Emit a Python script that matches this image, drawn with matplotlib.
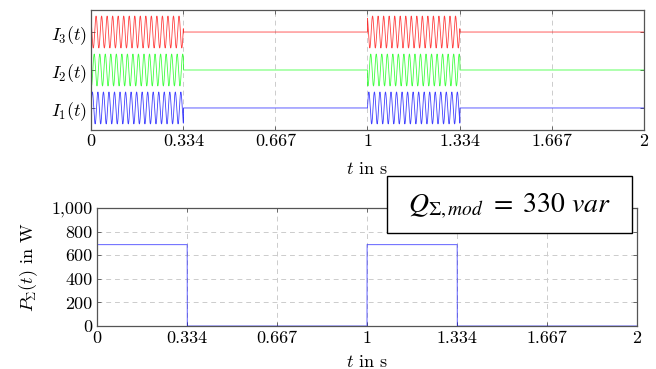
import numpy as np
import matplotlib
matplotlib.use("Agg")
import matplotlib.pyplot as plt
from matplotlib.patches import Rectangle

plt.rcParams['font.family'] = 'serif'
plt.rcParams['font.serif'] = ['cmr10', 'DejaVu Serif']
plt.rcParams['mathtext.fontset'] = 'cm'
plt.rcParams['axes.formatter.use_mathtext'] = True

# --- data ---
on_intervals = [(0.0, 0.334), (1.0, 1.334)]   # s, load switched on
t_end = 2.0
freq_hz = 50.0
current_amplitude = 0.42         # normalised amplitude of each phase current
phase_offsets_deg = [0, -120, 120]  # I1, I2, I3
phase_labels = [r'$I_1(t)$', r'$I_2(t)$', r'$I_3(t)$']
phase_colors = ['blue', '#00ff00', 'red']
power_on_W = 690.0
xticks = [0, 0.334, 0.667, 1, 1.334, 1.667, 2]
xtick_labels = ['0', '0.334', '0.667', '1', '1.334', '1.667', '2']
p_yticks = [0, 200, 400, 600, 800, 1000]
p_ytick_labels = ['0', '200', '400', '600', '800', '1,000']

t = np.linspace(0, t_end, 20001)
on = np.zeros_like(t, dtype=bool)
for a, b in on_intervals:
    on |= (t >= a) & (t <= b)

fig = plt.figure(figsize=(6.56, 3.69), dpi=100)
ax1 = fig.add_axes([0.1387, 0.6477, 0.843, 0.3252])
ax2 = fig.add_axes([0.1479, 0.1165, 0.8232, 0.3198])

fs = 13
frame_col = '#555555'
grid_col = '#cccccc'

# top axes: phase currents
for k, (ph, col) in enumerate(zip(phase_offsets_deg, phase_colors)):
    y = k + np.where(on, current_amplitude * np.sin(2 * np.pi * freq_hz * t + np.deg2rad(ph)), 0.0)
    ax1.plot(t, y, color=col, lw=0.6, alpha=0.75)
ax1.set_xlim(0, t_end)
ax1.set_ylim(-0.58, 2.58)
ax1.set_yticks(range(len(phase_labels)))
ax1.set_yticklabels(phase_labels, fontsize=fs)
ax1.set_xticks(xticks)
ax1.set_xticklabels(xtick_labels, fontsize=fs)
ax1.grid(axis='x', color=grid_col, ls=(0, (5, 4)), lw=0.7)
ax1.set_xlabel(r'$t$ in s', fontsize=fs, labelpad=8.5)

# bottom axes: active power
p = np.where(on, power_on_W, 0.0)
ax2.plot(t, p, color='blue', lw=0.8, alpha=0.55)
ax2.set_xlim(0, t_end)
ax2.set_ylim(0, 1000)
ax2.set_yticks(p_yticks)
ax2.set_yticklabels(p_ytick_labels, fontsize=fs)
ax2.set_xticks(xticks)
ax2.set_xticklabels(xtick_labels, fontsize=fs)
ax2.grid(True, color=grid_col, ls=(0, (5, 4)), lw=0.7)
ax2.set_xlabel(r'$t$ in s', fontsize=fs, labelpad=6)
ax2.set_ylabel(r'$P_\Sigma(t)$ in W', fontsize=fs, labelpad=8)

for ax in (ax1, ax2):
    ax.set_axisbelow(True)
    for s in ax.spines.values():
        s.set_color(frame_col)
        s.set_linewidth(0.9)
    ax.tick_params(direction='in', top=True, right=True, length=3, width=0.6,
                   color=frame_col, pad=3)

# annotation box
x0, y0, x1, y1 = 387 / 656, 1 - 233 / 369, 632 / 656, 1 - 176 / 369
fig.patches.append(Rectangle((x0, y0), x1 - x0, y1 - y0, transform=fig.transFigure,
                             facecolor='white', edgecolor='black', lw=1.0, zorder=5))
fig.text((x0 + x1) / 2, (y0 + y1) / 2 - 0.004, r'$Q_{\Sigma,mod}\ =\ 330\ var$', fontsize=20,
         ha='center', va='center', math_fontfamily='stix', zorder=6)

fig.savefig('out.png', dpi=100)
